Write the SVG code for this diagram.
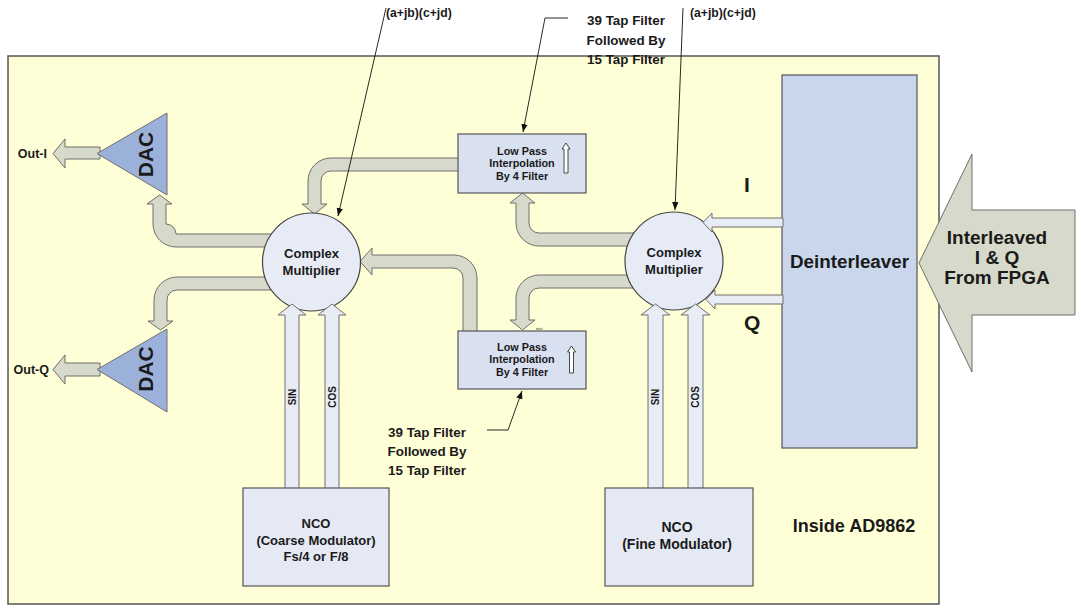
<svg xmlns="http://www.w3.org/2000/svg" width="1081" height="616" viewBox="0 0 1081 616">
<defs>
<style>
.t{font-family:"Liberation Sans",Arial,sans-serif;font-weight:bold;fill:#1a1a1a}
.ga{fill:#D7DACA;stroke:#6E6E6E;stroke-width:1}
.la{fill:#E8ECF5;stroke:#6E6E6E;stroke-width:1}
.ld{fill:none;stroke:#111;stroke-width:0.9;marker-end:url(#ah)}
.flt{fill:#D9E0F0;stroke:#555;stroke-width:1.2}
.nco{fill:#E5E9F4;stroke:#555;stroke-width:1.2}
.cm{fill:#E6EBF5;stroke:#444;stroke-width:1.2}
.dac{fill:#9CB1DA;stroke:#707070;stroke-width:1}
.up{fill:#fff;stroke:#333;stroke-width:0.9}
</style>
<marker id="ah" viewBox="0 0 10 10" refX="10" refY="5" markerWidth="8" markerHeight="8" markerUnits="userSpaceOnUse" orient="auto"><path d="M0,1 L10,5 L0,9 Z" fill="#111"/></marker>
</defs>
<rect width="1081" height="616" fill="#fff"/>
<g id="chip">
<rect x="8" y="56" width="931" height="548" fill="#FFFFD7" stroke="#555" stroke-width="1.5"/>
<text class="t" x="854" y="532" font-size="18" text-anchor="middle">Inside AD9862</text>
</g>
<g id="connectors">
<path class="ga" d="M100,147 H65 V139 L53,153.5 L65,168 V159 H100 Z"/>
<path class="ga" d="M100,363 H65 V355 L53,369.5 L65,384 V376 H100 Z"/>
<path class="ga" d="M275,234 H176 A10 10 0 0 0 166,224 V204 H172 L159.5,195 L147,204 H153 V224 A23 23 0 0 0 176,247 H275 Z"/>
<path class="ga" d="M275,290 H177 A10 10 0 0 0 167,300 V321 H173 L160.5,330 L148,321 H154 V300 A23 23 0 0 1 177,277 H275 Z"/>
<path class="ga" d="M460,158 H331 A23 23 0 0 0 308,181 V204 H302 L314.5,214 L327,204 H321 V181 A10 10 0 0 1 331,171 H460 Z"/>
<path class="ga" d="M463,332 V278 A10 10 0 0 0 453,268 H372 V275 L360,261.5 L372,248 V255 H454 A23 23 0 0 1 477,278 V332 Z"/>
<path class="ga" d="M640,233 H539 A10 10 0 0 1 529,223 V203 H535 L522.5,193 L510,203 H516 V223 A23 23 0 0 0 539,246 H640 Z"/>
<path class="ga" d="M640,288 H539 A10 10 0 0 0 529,298 V320 H535 L522.5,330 L510,320 H516 V298 A23 23 0 0 1 539,275 H640 Z"/>
<path class="ga" d="M919,263 L972,154 V210 H1075 V315 H972 V372 Z"/>
<polyline class="ld" points="386,8 338,216"/>
<polyline class="ld" points="568,18 545,18 523,132"/>
<polyline class="ld" points="683,8 675,210"/>
<polyline class="ld" points="487,430 508,430 522,391"/>
</g>
<g id="cm-left">
<circle class="cm" cx="311.5" cy="262" r="49"/>
<text class="t" x="311.5" y="258" font-size="13" text-anchor="middle">Complex</text>
<text class="t" x="311.5" y="275" font-size="13" text-anchor="middle">Multiplier</text>
</g>
<g id="cm-right">
<circle class="cm" cx="674" cy="261" r="49"/>
<text class="t" x="674" y="257" font-size="13" text-anchor="middle">Complex</text>
<text class="t" x="674" y="274" font-size="13" text-anchor="middle">Multiplier</text>
</g>
<g id="filter-top">
<rect class="flt" x="458" y="134" width="128" height="59"/>
<text class="t" x="522" y="154.5" font-size="10.8" text-anchor="middle">Low Pass</text>
<text class="t" x="522" y="167" font-size="10.8" text-anchor="middle">Interpolation</text>
<text class="t" x="522" y="179.5" font-size="10.8" text-anchor="middle">By 4 Filter</text>
<path class="up" d="M564,173 V149 H562 L566,143 L570,149 H568 V173 Z"/>
</g>
<g id="filter-bottom">
<rect class="flt" x="458" y="331" width="128" height="58"/>
<text class="t" x="522" y="350.5" font-size="10.8" text-anchor="middle">Low Pass</text>
<text class="t" x="522" y="363" font-size="10.8" text-anchor="middle">Interpolation</text>
<text class="t" x="522" y="375.5" font-size="10.8" text-anchor="middle">By 4 Filter</text>
<path class="up" d="M569.5,373 V352 H567.5 L571.5,346 L575.5,352 H573.5 V373 Z"/>
<text x="536" y="330" font-family="Liberation Sans,Arial,sans-serif" font-size="4" fill="#333">text</text>
</g>
<g id="dac-i">
<polygon class="dac" points="97,153.5 167,113 167,195"/>
<text class="t" transform="translate(153,154.5) rotate(-90)" font-size="21" text-anchor="middle">DAC</text>
<text class="t" x="47" y="157.5" font-size="12.5" text-anchor="end">Out-I</text>
</g>
<g id="dac-q">
<polygon class="dac" points="97,369.5 167,329 167,412"/>
<text class="t" transform="translate(153,369) rotate(-90)" font-size="21" text-anchor="middle">DAC</text>
<text class="t" x="49" y="374" font-size="12.5" text-anchor="end">Out-Q</text>
</g>
<g id="nco-coarse">
<path class="la" d="M285,489 V315 H278 L292,304 L306,315 H299 V489 Z"/>
<path class="la" d="M325,489 V315 H318 L332,304 L346,315 H339 V489 Z"/>
<text class="t" transform="translate(295.5,397) rotate(-90)" font-size="10" text-anchor="middle">SIN</text>
<text class="t" transform="translate(335.5,397) rotate(-90)" font-size="10" text-anchor="middle">COS</text>
<rect class="nco" x="243" y="488" width="146" height="98"/>
<text class="t" x="316" y="528" font-size="13" text-anchor="middle">NCO</text>
<text class="t" x="316" y="544.5" font-size="13" text-anchor="middle">(Coarse Modulator)</text>
<text class="t" x="316" y="561" font-size="13" text-anchor="middle">Fs/4 or F/8</text>
</g>
<g id="nco-fine">
<path class="la" d="M648,489 V315 H641 L655.5,304 L670,315 H663 V489 Z"/>
<path class="la" d="M688,489 V315 H681 L695.5,304 L710,315 H703 V489 Z"/>
<text class="t" transform="translate(659,397) rotate(-90)" font-size="10" text-anchor="middle">SIN</text>
<text class="t" transform="translate(699,397) rotate(-90)" font-size="10" text-anchor="middle">COS</text>
<rect class="nco" x="605" y="488" width="148" height="98"/>
<text class="t" x="677" y="532" font-size="14" text-anchor="middle">NCO</text>
<text class="t" x="677" y="549" font-size="14" text-anchor="middle">(Fine Modulator)</text>
</g>
<g id="deinterleaver">
<rect x="782" y="75" width="135" height="373" fill="#CAD6EC" stroke="#555" stroke-width="1.2"/>
<text class="t" x="849.5" y="268" font-size="18.8" text-anchor="middle">Deinterleaver</text>
<path class="la" d="M783,218 H712 V213 L703,222.5 L712,232 V227 H783 Z"/>
<path class="la" d="M783,295 H715 V290 L706,299.5 L715,309 V304 H783 Z"/>
<text class="t" x="744" y="192" font-size="21">I</text>
<text class="t" x="744" y="330" font-size="21">Q</text>
</g>
<g id="fpga-input">
<text class="t" x="997" y="244" font-size="19" text-anchor="middle">Interleaved</text>
<text class="t" x="997" y="264" font-size="19" text-anchor="middle">I &amp; Q</text>
<text class="t" x="997" y="284" font-size="19" text-anchor="middle">From FPGA</text>
</g>
<g id="annotations">
<text class="t" x="386" y="17" font-size="12.2">(a+jb)(c+jd)</text>
<text class="t" x="690" y="17" font-size="12.2">(a+jb)(c+jd)</text>
<text class="t" x="626" y="25" font-size="13.4" text-anchor="middle">39 Tap Filter</text>
<text class="t" x="626" y="44.5" font-size="13.4" text-anchor="middle">Followed By</text>
<text class="t" x="626" y="64" font-size="13.4" text-anchor="middle">15 Tap Filter</text>
<text class="t" x="427" y="437" font-size="13.4" text-anchor="middle">39 Tap Filter</text>
<text class="t" x="427" y="456" font-size="13.4" text-anchor="middle">Followed By</text>
<text class="t" x="427" y="474.5" font-size="13.4" text-anchor="middle">15 Tap Filter</text>
</g>
</svg>
